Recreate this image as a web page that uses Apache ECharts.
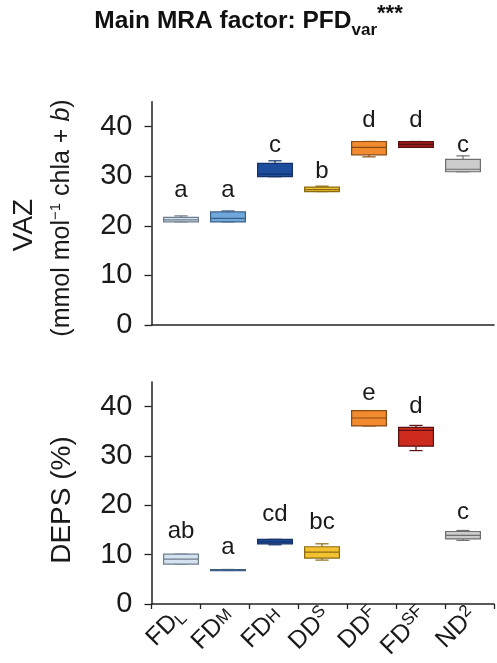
<!DOCTYPE html>
<html>
<head>
<meta charset="utf-8">
<script src="https://cdn.jsdelivr.net/npm/echarts@6/dist/echarts.min.js"></script>
<style>
  html, body { margin: 0; padding: 0; background: #fff; }
  #chart { width: 497px; height: 663px; }
</style>
</head>
<body>
<div id="chart"></div>
<script>
// Tratamientos (eje X)
const categories = ['FDL', 'FDM', 'FDH', 'DDS', 'DDF', 'FDSF', 'ND2'];
const catLabels = ['{m|FD}{lo|L}', '{m|FD}{mi|M}', '{m|FD}{mi|H}', '{m|DD}{hi|S}', '{m|DD}{hi|F}', '{m|FD}{hi|SF}', '{m|ND}{hi|2}'];

// VAZ: [min, q1, mediana, q3, max]
const vazStats = [
    [20.8, 20.8, 21.2, 21.7, 22.0],
    [20.8, 20.8, 21.5, 22.8, 23.0],
    [29.9, 29.9, 30.4, 32.6, 33.1],
    [26.9, 26.9, 27.3, 27.8, 28.0],
    [33.9, 34.3, 35.8, 37.0, 37.0],
    [35.8, 35.8, 36.4, 37.0, 37.0],
    [30.9, 30.9, 31.4, 33.4, 34.1]
];
const vazLetters = ['a', 'a', 'c', 'b', 'd', 'd', 'c'];
const vazLetterY = [25.7, 25.7, 34.9, 29.6, 39.9, 39.9, 34.9];

// DEPS (%): [min, q1, mediana, q3, max]
const depsStats = [
    [8.1, 8.1, 9.1, 10.1, 10.1],
    [6.8, 6.85, 6.9, 6.95, 7.0],
    [12.0, 12.2, 12.6, 13.1, 13.1],
    [8.9, 9.3, 10.5, 11.6, 12.2],
    [36.1, 36.1, 37.7, 39.2, 39.2],
    [31.1, 32.0, 35.2, 35.8, 36.2],
    [12.9, 13.2, 13.9, 14.7, 14.9]
];
const depsLetters = ['ab', 'a', 'cd', 'bc', 'e', 'd', 'c'];
const depsLetterY = [13.3, 10.1, 16.7, 15.2, 41.2, 38.7, 17.2];

const yTicks = [0, 10, 20, 30, 40];
const yMax = 45;

// Colores
const fillsTop = ['#d5e2ef', '#6ea8dc', '#1f4d9e', '#f2c230', '#f28a30', '#981c1c', '#cbcbcb'];
const fillsBottom = ['#d5e2ef', '#333333', '#1f4d9e', '#f2c230', '#f28a30', '#cc2b1d', '#cbcbcb'];
const strokes = ['#6d7d8d', '#3d5f85', '#13306a', '#8a6b12', '#8a4a12', '#5a1010', '#6e6e6e'];

const FONT = '"Liberation Sans", Arial, sans-serif';
const INK = '#1a1a1a';

function boxRender(letters, fills) {
    return function (params, api) {
        const i = api.value(0);
        const cx = api.coord([i, 0])[0];
        const bw = api.size([1, 0])[0] * 0.74;
        const cap = bw * 0.38;
        const y = (d) => api.coord([i, api.value(d)])[1];
        const yMin = y(1), yQ1 = y(2), yMed = y(3), yQ3 = y(4), yMaxV = y(5);
        const st = { stroke: strokes[i], lineWidth: 1.2 };
        return {
            type: 'group',
            children: [
                { type: 'line', shape: { x1: cx, y1: yMaxV, x2: cx, y2: yQ3 }, style: st },
                { type: 'line', shape: { x1: cx, y1: yQ1, x2: cx, y2: yMin }, style: st },
                { type: 'line', shape: { x1: cx - cap / 2, y1: yMaxV, x2: cx + cap / 2, y2: yMaxV }, style: st },
                { type: 'line', shape: { x1: cx - cap / 2, y1: yMin, x2: cx + cap / 2, y2: yMin }, style: st },
                {
                    type: 'rect',
                    shape: { x: cx - bw / 2, y: yQ3, width: bw, height: Math.max(yQ1 - yQ3, 1) },
                    style: { fill: fills[i], stroke: strokes[i], lineWidth: 1.2 }
                },
                { type: 'line', shape: { x1: cx - bw / 2, y1: yMed, x2: cx + bw / 2, y2: yMed }, style: st },
                {
                    type: 'text',
                    x: cx,
                    y: y(6) + 5,
                    style: {
                        text: letters[i], fill: INK, font: '24px ' + FONT,
                        align: 'center', verticalAlign: 'bottom'
                    }
                }
            ]
        };
    };
}

const chart = echarts.init(document.getElementById('chart'));

// Eje con línea y marcas (sin etiquetas)
const frameX = (gridIndex, showTicks) => ({
    type: 'category',
    gridIndex: gridIndex,
    data: categories,
    boundaryGap: true,
    axisLine: { show: true, lineStyle: { color: '#222', width: 1.5 } },
    axisTick: { show: showTicks, inside: false, length: 5, lineStyle: { color: '#222', width: 1.3 } },
    axisLabel: { show: false },
    splitLine: { show: false }
});

// Eje solo de etiquetas rotadas
const labelX = (gridIndex) => ({
    type: 'category',
    gridIndex: gridIndex,
    data: categories,
    boundaryGap: true,
    axisLine: { show: false },
    axisTick: { show: false },
    axisLabel: {
        interval: 0,
        rotate: 45,
        margin: 8,
        formatter: (v, idx) => catLabels[idx],
        rich: {
            m: { fontSize: 25, fontFamily: FONT, color: INK, lineHeight: 28 },
            lo: { fontSize: 17, fontFamily: FONT, color: INK, verticalAlign: 'bottom', lineHeight: 15 },
            mi: { fontSize: 17, fontFamily: FONT, color: INK, verticalAlign: 'middle', lineHeight: 15 },
            hi: { fontSize: 17, fontFamily: FONT, color: INK, verticalAlign: 'top', lineHeight: 15 }
        }
    },
    splitLine: { show: false }
});

const frameY = (gridIndex) => ({
    type: 'value',
    gridIndex: gridIndex,
    min: 0,
    max: yMax,
    axisLine: { show: true, lineStyle: { color: '#222', width: 1.5 } },
    axisTick: { show: true, length: 7, customValues: yTicks, lineStyle: { color: '#222', width: 1.3 } },
    axisLabel: { customValues: yTicks, margin: 19, fontSize: 29, fontFamily: FONT, color: INK },
    splitLine: { show: false }
});

const hiddenX = (gridIndex) => ({ type: 'category', gridIndex: gridIndex, data: categories, show: false });
const hiddenY = (gridIndex) => ({ type: 'value', gridIndex: gridIndex, min: 0, max: yMax, show: false });

const option = {
    backgroundColor: '#fff',
    animation: false,
    title: {
        left: 'center',
        top: 3,
        padding: 0,
        text: '{b|Main MRA factor: PFD}{sub|var}{sup|***}',
        textStyle: {
            rich: {
                b: { fontSize: 24.5, fontWeight: 'bold', fontFamily: FONT, color: '#111', lineHeight: 36 },
                sub: { fontSize: 17, fontFamily: FONT, color: '#111', verticalAlign: 'bottom', lineHeight: 13 },
                sup: { fontSize: 22, fontFamily: FONT, color: '#111', verticalAlign: 'top', lineHeight: 35 }
            }
        }
    },
    grid: [
        { left: 151.5, right: 3, top: 101.8, bottom: 338 },
        { left: 151.5, right: 3, top: 382, bottom: 59 },
        { left: 157.5, right: 10.5, top: 101.8, bottom: 338 },
        { left: 157.5, right: 10.5, top: 382, bottom: 59 },
        { left: 156.5, right: -2, top: 382, bottom: 59 }
    ],
    xAxis: [frameX(0, false), frameX(1, true), hiddenX(2), hiddenX(3), labelX(4)],
    yAxis: [frameY(0), frameY(1), hiddenY(2), hiddenY(3), hiddenY(4)],
    graphic: [
        {
            type: 'text', x: 24, y: 225, rotation: Math.PI / 2,
            style: { text: 'VAZ', font: '28px ' + FONT, fill: INK, align: 'center', verticalAlign: 'middle' }
        },
        {
            type: 'text', x: 62, y: 218, rotation: Math.PI / 2,
            style: {
                text: '{t|(mmol mol}{s|\u22121}{t| chla + }{i|b}{t|)}',
                align: 'center', verticalAlign: 'middle',
                rich: {
                    t: { fontSize: 25, fontFamily: FONT, fill: INK, lineHeight: 28 },
                    s: { fontSize: 15, fontFamily: FONT, fill: INK, verticalAlign: 'top', lineHeight: 14 },
                    i: { fontSize: 25, fontFamily: FONT, fontStyle: 'italic', fill: INK, lineHeight: 28 }
                }
            }
        },
        {
            type: 'text', x: 62, y: 500, rotation: Math.PI / 2,
            style: { text: 'DEPS (%)', font: '28px ' + FONT, fill: INK, align: 'center', verticalAlign: 'middle' }
        }
    ],
    series: [
        {
            name: 'VAZ',
            type: 'custom',
            xAxisIndex: 2,
            yAxisIndex: 2,
            clip: false,
            renderItem: boxRender(vazLetters, fillsTop),
            encode: { x: 0, y: [1, 2, 3, 4, 5] },
            data: vazStats.map((s, i) => [i].concat(s, [vazLetterY[i]]))
        },
        {
            name: 'DEPS',
            type: 'custom',
            xAxisIndex: 3,
            yAxisIndex: 3,
            clip: false,
            renderItem: boxRender(depsLetters, fillsBottom),
            encode: { x: 0, y: [1, 2, 3, 4, 5] },
            data: depsStats.map((s, i) => [i].concat(s, [depsLetterY[i]]))
        }
    ]
};

chart.setOption(option);
</script>
</body>
</html>
